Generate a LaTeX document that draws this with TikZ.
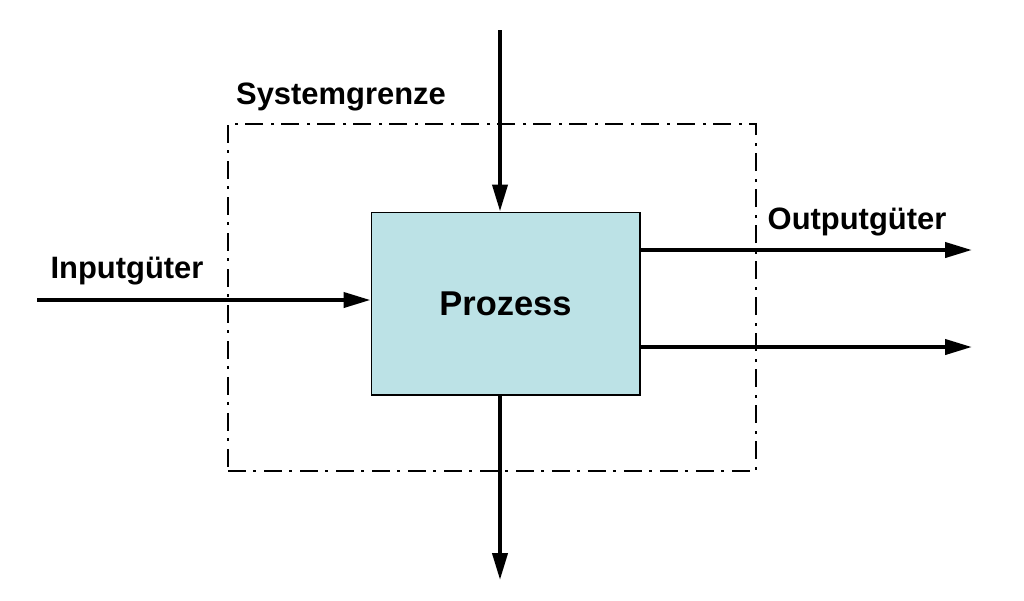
\documentclass[tikz,border=0pt]{standalone}
\usepackage{fontspec}
\setmainfont{Liberation Sans}
\usetikzlibrary{arrows.meta, positioning}
\definecolor{prozessblau}{RGB}{188,226,230}

\begin{document}
\begin{tikzpicture}[
  x=0.02cm, y=-0.02cm,
  prozess/.style={rectangle, draw=black, fill=prozessblau, line width=0.6pt,
                  minimum width=5.38cm, minimum height=3.66cm,
                  font=\fontsize{19.6}{22}\selectfont\bfseries},
  grenze/.style={rectangle, draw=black, line width=1.4pt,
                 dash pattern=on 0.36cm off 0.14cm on 0.06cm off 0.16cm,
                 minimum width=10.56cm, minimum height=6.94cm},
  label/.style={font=\fontsize{17.6}{20}\selectfont\bfseries, inner sep=0pt},
  fluss/.style={-{Triangle[length=0.54cm,width=0.3cm]}, line width=2.3pt},
]
  \useasboundingbox (0,0) rectangle (1024,600);
  \node[grenze] (sys) at (492,297.5) {};
  \node[prozess] (proc) at (505.5,303.5) {Prozess};
  \node[label] (sysl) at (341,97) {Systemgrenze};
  \node[label] (inl) at (127,271) {Inputgüter};
  \node[label] (outl) at (857,222) {Outputgüter};
  % free ends
  \coordinate (oben) at (500,30);
  \coordinate (unten) at (500,580);
  \coordinate (ein) at (37,300);
  \coordinate (aus1) at (972,250);
  \coordinate (aus2) at (972,347);
  \draw[fluss] (oben) -- (oben |- proc.north);
  \draw[fluss] (unten |- proc.south) -- (unten);
  \draw[fluss] (ein) -- (ein -| proc.west);
  \draw[fluss] (aus1 -| proc.east) -- (aus1);
  \draw[fluss] (aus2 -| proc.east) -- (aus2);
\end{tikzpicture}
\end{document}
